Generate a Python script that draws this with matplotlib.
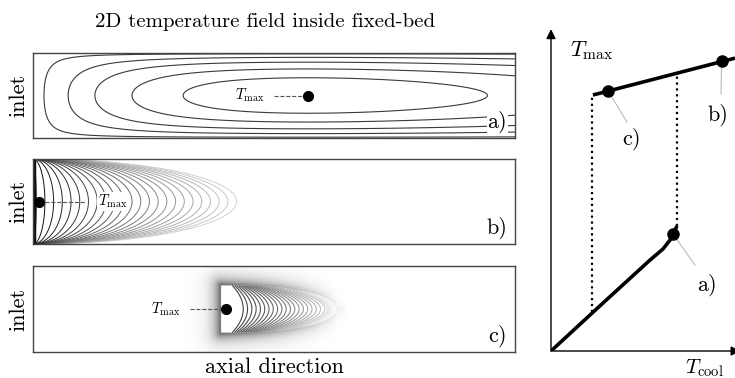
import numpy as np
import matplotlib.pyplot as plt

plt.rcParams['font.family'] = 'serif'
plt.rcParams['font.serif'] = ['cmr10']
plt.rcParams['mathtext.fontset'] = 'cm'
plt.rcParams['axes.formatter.use_mathtext'] = True

# --- left: three temperature fields (axial x in [0,1], radial y in [-1,1]) ---
panel_names = ['a)', 'b)', 'c)']
tmax_pos = [(0.570, 0.0), (0.012, 0.0), (0.400, 0.0)]      # hot spot
tmax_label_x = [0.450, 0.165, 0.275]

# a) hot spot inside the bed
a_peak_x = 0.57
a_levels = [0.1045, 0.306, 0.489, 0.683, 0.86]
# b) hot spot at the inlet
b_length = 0.44
b_levels = np.linspace(0.04, 0.985, 24)
# c) front travelling inside the bed
c_front_x = 0.39
c_length = 0.22
c_width = 0.55
c_reach = 0.24
c_bend = 0.5
c_levels = np.linspace(0.02, 0.79, 20)

# --- right: Tmax versus Tcool (hysteresis) ---
low_x = [0.0, 0.266, 0.538, 0.609, 0.647, 0.668, 0.685]
low_y = [0.0, 0.142, 0.286, 0.321, 0.349, 0.374, 0.393]
up_x = [0.228, 1.0]
up_y = [0.805, 0.921]
dots_x = [0.663, 0.927, 0.310]
dots_y = [0.368, 0.912, 0.818]
jump_x = [0.223, 0.685]
jump_lo = [0.124, 0.393]
jump_hi = [0.805, 0.874]
lab_xy = [(0.848, 0.208), (0.905, 0.742), (0.440, 0.667)]
lead_end = [(0.783, 0.270), (0.924, 0.808), (0.413, 0.720)]

x = np.linspace(0, 1, 1000)
y = np.linspace(-1, 1, 400)
X, Y = np.meshgrid(x, y)


def field_a():
    u = X / a_peak_x
    A = u * np.exp(1 - u)
    B = np.cos(np.pi * Y / 2).clip(0) ** 0.65
    return A * B


def field_b():
    phi = (1 - Y ** 2).clip(1e-6) ** 0.5
    return 1 - (X / (b_length * phi)).clip(0, 1)


def psi_c():
    t = (np.abs(Y) / c_width).clip(0, 1)
    return 1 - c_bend * t ** 2


def width_c():
    # radial extent of the hot zone, narrowing towards its tip
    s = (X - c_front_x).clip(0)
    return c_width * (1 - (s / c_reach) ** 2.5).clip(0) ** 0.5


def field_c():
    s = X - c_front_x
    T = 1 - s / (c_length * psi_c())
    outside = (s < 0) | (np.abs(Y) > width_c())
    return np.ma.masked_where(outside, T)


def halo_c():
    # grey smear of the steep gradients around the front
    s = (X - c_front_x) * 482
    dy = (np.abs(Y) - width_c()) * 43
    d_left = np.maximum(-s, 0)
    d_vert = np.maximum(dy, 0)
    d_nose = np.where(dy <= 0, np.maximum(s - c_length * 482 * psi_c(), 0), 0)
    d = np.sqrt(d_left ** 2 + d_vert ** 2 + d_nose ** 2)
    inten = np.where(d > 0, np.exp(-d / 7.0), 0.0)
    fade = (1 - (s / 482) / (c_reach * 1.1)).clip(0, 1) ** 0.9
    inten = inten * np.where(s < 0, 1.0, fade)
    img = np.zeros(X.shape + (4,))
    img[..., :3] = 0.25
    img[..., 3] = 0.85 * inten
    return img


W, H = 735, 378
fig = plt.figure(figsize=(W / 100, H / 100), dpi=100)

boxes = [(53, 138), (159, 244), (266, 352)]
fields = [field_a(), field_b(), field_c()]
for i, (top, bot) in enumerate(boxes):
    ax = fig.add_axes([33 / W, (H - bot) / H, 482 / W, (bot - top) / H])
    Z = fields[i]
    if i == 0:
        ax.contour(X, Y, Z, levels=a_levels, colors='#3a3a3a', linewidths=0.8)
    elif i == 1:
        cols = [str(0.85 * (1 - c) ** 0.9) for c in b_levels]
        ax.contour(X, Y, Z, levels=b_levels, colors=cols, linewidths=0.7)
        ax.axvline(0.002, color='#111111', lw=2.5)
    else:
        ax.imshow(halo_c(), extent=(0, 1, -1, 1), origin='lower',
                  aspect='auto', interpolation='bilinear')
        cols = [str(0.2 + 0.6 * (1 - c) ** 1.5) for c in c_levels]
        ax.contour(X, Y, Z, levels=c_levels, colors=cols, linewidths=0.8)
    px, py = tmax_pos[i]
    lx = tmax_label_x[i]
    if i == 1:
        ax.plot([px, lx - 0.055], [py, py], ls='--', color='#555555', lw=0.8)
    else:
        ax.plot([lx + 0.05, px], [py, py], ls='--', color='#555555', lw=0.8)
    ax.plot(px, py, 'o', color='black', ms=7, zorder=5)
    ax.text(lx, py, r'$T_{\max}$', fontsize=10.5, ha='center', va='center',
            bbox=dict(fc='white', ec='none', pad=0.5))
    ax.text(0.963, -0.62, panel_names[i], fontsize=16, ha='center', va='center',
            bbox=dict(fc='white', ec='none', pad=0.5))
    ax.set_xlim(0, 1)
    ax.set_ylim(-1, 1)
    ax.set_xticks([])
    ax.set_yticks([])
    for sp in ax.spines.values():
        sp.set_color('#444444')
        sp.set_linewidth(1.0)
    fig.text(19 / W, (H - (top + bot) / 2) / H, 'inlet', rotation=90,
             fontsize=16, ha='center', va='center')

fig.text(265 / W, (H - 22) / H, '2D temperature field inside fixed-bed',
         fontsize=15, ha='center', va='center')
fig.text(274 / W, (H - 367) / H, 'axial direction', fontsize=16,
         ha='center', va='center')

# right diagram
ax = fig.add_axes([551 / W, 27 / H, 184 / W, 318 / H])
ax.set_xlim(0, 1)
ax.set_ylim(0, 1)
ax.axis('off')
ax.annotate('', xy=(0, 1.012), xytext=(0, 0),
            arrowprops=dict(arrowstyle='-|>', color='black', lw=1.0,
                            mutation_scale=14, shrinkA=0, shrinkB=0),
            annotation_clip=False)
ax.annotate('', xy=(1.03, 0), xytext=(0, 0),
            arrowprops=dict(arrowstyle='-|>', color='black', lw=1.0,
                            mutation_scale=14, shrinkA=0, shrinkB=0),
            annotation_clip=False)
for jx, lo, hi in zip(jump_x, jump_lo, jump_hi):
    ax.plot([jx, jx], [lo, hi], ls=':', color='black', lw=1.6)
ax.plot(low_x, low_y, color='black', lw=2.6, solid_capstyle='butt')
ax.plot(up_x, up_y, color='black', lw=2.6, solid_capstyle='butt', clip_on=False)
for i in range(3):
    ax.plot([dots_x[i], lead_end[i][0]], [dots_y[i], lead_end[i][1]],
            color='#bbbbbb', lw=0.8)
    ax.text(lab_xy[i][0], lab_xy[i][1], panel_names[i], fontsize=16,
            ha='center', va='center')
ax.plot(dots_x, dots_y, 'o', color='black', ms=8, zorder=5, clip_on=False)
ax.text(0.22, 0.945, r'$T_{\max}$', fontsize=16, ha='center', va='center')
ax.text(0.835, -0.055, r'$T_{\mathrm{cool}}$', fontsize=15, ha='center',
        va='center', clip_on=False)

fig.savefig('out.png', dpi=100)
